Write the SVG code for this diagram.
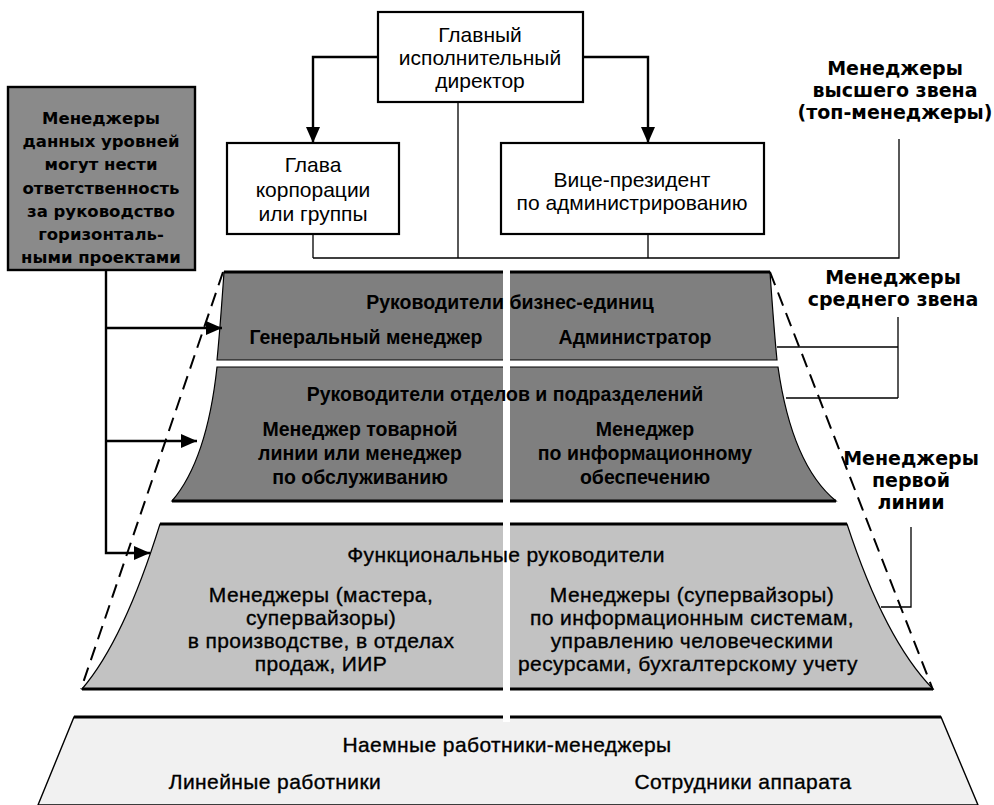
<svg xmlns="http://www.w3.org/2000/svg" width="994" height="805" viewBox="0 0 994 805">
<style>
  text { font-family: "Liberation Sans", Arial, sans-serif; fill: #000; }
  .reg { font-size: 21px; text-anchor: middle; }
  .wide { font-size: 21px; text-anchor: middle; letter-spacing: 0.4px; stroke: #000; stroke-width: 0.35px; }
  .dark { font-size: 19.5px; font-weight: bold; text-anchor: middle; }
  .note { font-family: "DejaVu Sans", Verdana, sans-serif; font-size: 16.5px; font-weight: bold; text-anchor: middle; }
  .lvl { font-family: "DejaVu Sans", Verdana, sans-serif; font-size: 19px; font-weight: bold; text-anchor: middle; }
  .box { fill: #fff; stroke: #000; stroke-width: 2.2; }
  .thin { fill: none; stroke: #000; stroke-width: 1.3; }
  .arr { fill: none; stroke: #000; stroke-width: 2.4; }
  .dash { fill: none; stroke: #000; stroke-width: 2; stroke-dasharray: 14 8; }
  .edge { stroke: #000; stroke-width: 3.2; fill: none; }
  .gap { fill: #fff; }
</style>
<defs>
  <marker id="ah" viewBox="0 0 16 14" refX="16" refY="7" markerWidth="16" markerHeight="14" markerUnits="userSpaceOnUse" orient="auto">
    <path d="M0,0 L16,7 L0,14 z" fill="#000"/>
  </marker>
</defs>
<rect width="994" height="805" fill="#fff"/>

<!-- bands -->
<g id="band-employees">
  <path d="M74,717 L941,717 L978,805 L38,805 Z" fill="#f1f1f1" stroke="#000" stroke-width="1.4"/>
  <path class="edge" d="M74,717 H941"/>
  <rect class="gap" x="503" y="714" width="7" height="8"/>
  <text class="wide" x="507" y="752">Наемные работники-менеджеры</text>
  <text class="wide" x="275" y="789">Линейные работники</text>
  <text class="wide" x="743" y="789">Сотрудники аппарата</text>
</g>

<g id="band-functional">
  <path d="M160,524 L847,524 Q885,640 933,689 L82,689 Q124,640 160,524 Z" fill="#c2c2c2" stroke="#000" stroke-width="1.2"/>
  <path class="edge" d="M160,524 H847 M82,689 H933"/>
  <rect class="gap" x="503" y="521" width="7" height="171"/>
  <text class="wide" x="506" y="562">Функциональные руководители</text>
  <text class="wide" x="321" y="602">Менеджеры (мастера,</text>
  <text class="wide" x="321" y="625">супервайзоры)</text>
  <text class="wide" x="321" y="648">в производстве, в отделах</text>
  <text class="wide" x="321" y="671">продаж, ИИР</text>
  <text class="wide" x="692" y="602">Менеджеры (супервайзоры)</text>
  <text class="wide" x="692" y="625">по информационным системам,</text>
  <text class="wide" x="692" y="648">управлению человеческими</text>
  <text class="wide" x="688" y="671">ресурсами, бухгалтерскому учету</text>
</g>

<g id="band-departments">
  <path d="M217,367 L778,367 Q792,465 836,501 L172,501 Q207,460 217,367 Z" fill="#7f7f7f" stroke="#000" stroke-width="1.2"/>
  <path class="edge" d="M172,501 H836"/>
  <rect class="gap" x="503" y="364" width="7" height="140"/>
  <text class="dark" x="505" y="401">Руководители отделов и подразделений</text>
  <text class="dark" x="360" y="436">Менеджер товарной</text>
  <text class="dark" x="360" y="460">линии или менеджер</text>
  <text class="dark" x="360" y="484">по обслуживанию</text>
  <text class="dark" x="645" y="436">Менеджер</text>
  <text class="dark" x="645" y="460">по информационному</text>
  <text class="dark" x="645" y="484">обеспечению</text>
</g>

<g id="band-business-units">
  <path d="M224,272 L770,272 Q774,330 777,360 L217,360 Q220,330 224,272 Z" fill="#7f7f7f" stroke="#000" stroke-width="1.2"/>
  <path class="edge" d="M224,272 H770"/>
  <rect class="gap" x="503" y="269" width="7" height="92"/>
  <text class="dark" x="510" y="309">Руководители бизнес-единиц</text>
  <text class="dark" x="366" y="344">Генеральный менеджер</text>
  <text class="dark" x="635" y="344">Администратор</text>
</g>

<!-- top boxes -->
<g id="ceo">
  <rect class="box" x="378" y="12" width="205" height="90"/>
  <text class="reg" x="480" y="42">Главный</text>
  <text class="reg" x="480" y="65">исполнительный</text>
  <text class="reg" x="480" y="88">директор</text>
</g>
<g id="head-corp">
  <rect class="box" x="227" y="143" width="172" height="91"/>
  <text class="reg" x="313" y="172">Глава</text>
  <text class="reg" x="313" y="197">корпорации</text>
  <text class="reg" x="313" y="221">или группы</text>
</g>
<g id="vp-admin">
  <rect class="box" x="501" y="143" width="263" height="91"/>
  <text class="reg" x="632" y="187">Вице-президент</text>
  <text class="reg" x="632" y="210">по администрированию</text>
</g>

<g id="note-box">
  <rect x="8" y="87" width="187" height="183" fill="#8a8a8a" stroke="#000" stroke-width="2.4"/>
  <text class="note" x="101" y="124">Менеджеры</text>
  <text class="note" x="101" y="147">данных уровней</text>
  <text class="note" x="101" y="170">могут нести</text>
  <text class="note" x="101" y="194">ответственность</text>
  <text class="note" x="101" y="217">за руководство</text>
  <text class="note" x="101" y="240">горизонталь-</text>
  <text class="note" x="101" y="263">ными проектами</text>
</g>

<!-- level labels -->
<g id="label-top">
  <text class="lvl" x="895" y="75">Менеджеры</text>
  <text class="lvl" x="895" y="97">высшего звена</text>
  <text class="lvl" x="895" y="119">(топ-менеджеры)</text>
</g>
<g id="label-middle">
  <text class="lvl" x="893" y="284">Менеджеры</text>
  <text class="lvl" x="893" y="306">среднего звена</text>
</g>
<g id="label-first">
  <text class="lvl" x="911" y="465">Менеджеры</text>
  <text class="lvl" x="911" y="487">первой</text>
  <text class="lvl" x="911" y="509">линии</text>
</g>

<!-- connectors -->
<g id="connectors">
  <path class="arr" d="M378,57 H313 V143" marker-end="url(#ah)"/>
  <path class="arr" d="M583,57 H648 V143" marker-end="url(#ah)"/>
  <path class="thin" d="M458,102 V258 M313,234 V258 M648,234 V258 M313,258 H899 V139"/>
  <path class="thin" d="M777,347 H898 M898,317 V398 M786,398 H898"/>
  <path class="thin" d="M911,527 V607 H881"/>
  <path class="arr" d="M106,270 V553 H150" marker-end="url(#ah)" stroke-width="2"/>
  <path class="arr" d="M106,328 H222" marker-end="url(#ah)" stroke-width="2"/>
  <path class="arr" d="M106,441 H197" marker-end="url(#ah)" stroke-width="2"/>
  <path class="dash" d="M223,272 L81,689"/>
  <path class="dash" d="M770,272 L933,690"/>
</g>
</svg>
